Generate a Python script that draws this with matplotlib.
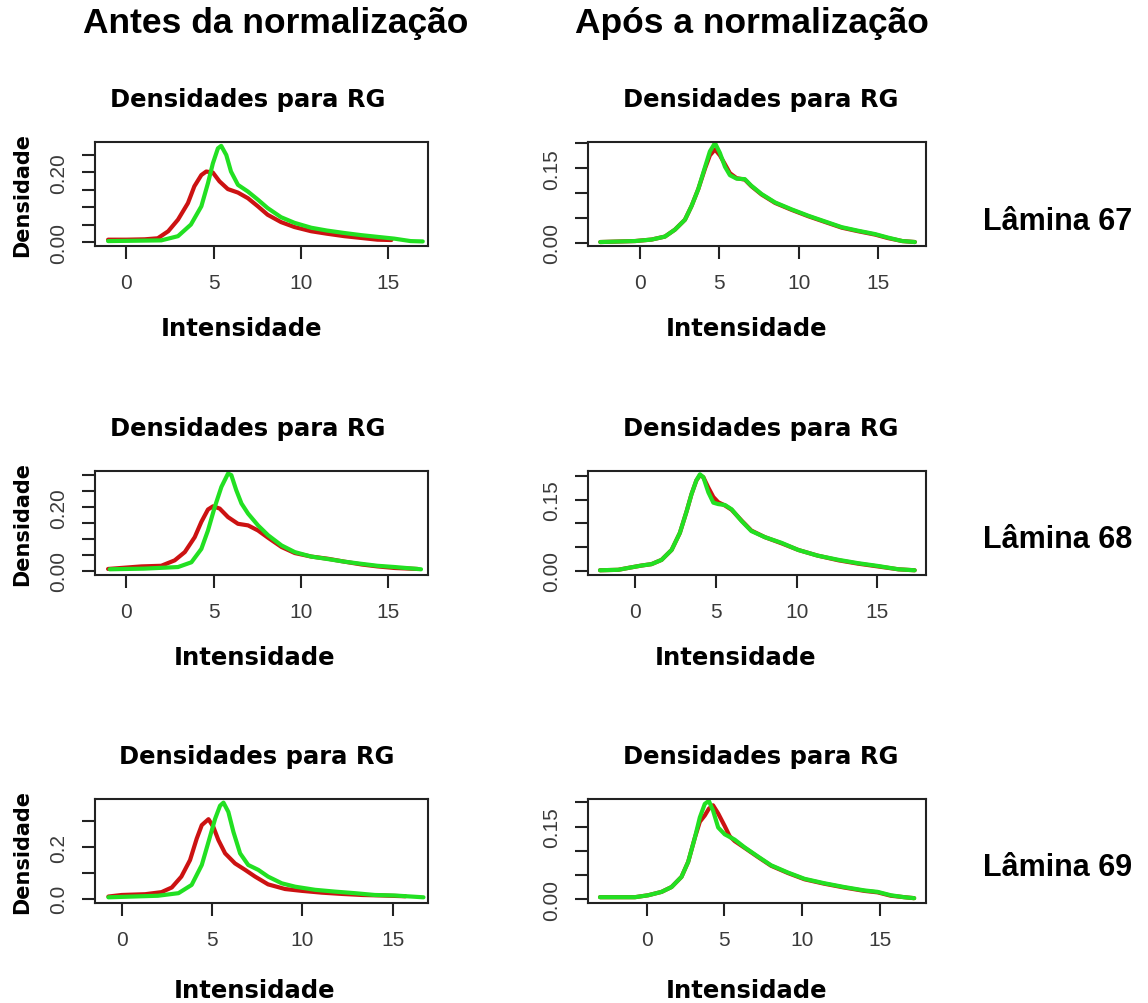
import matplotlib
matplotlib.use("Agg")
import matplotlib.pyplot as plt

plt.rcParams['font.family'] = ['Liberation Sans', 'DejaVu Sans']

# ---------------- data ----------------
col_titles = ["Antes da normalização", "Após a normalização"]
row_labels = ["Lâmina 67", "Lâmina 68", "Lâmina 69"]
panel_title = "Densidades para RG"
x_label = "Intensidade"
y_label = "Densidade"
x_ticks = [0, 5, 10, 15]

# Lâmina 67 - before
l67_before_red_x = [-1.05, 0.0, 1.05, 1.8, 2.4, 2.96, 3.53, 3.9, 4.3, 4.58, 4.96, 5.34, 5.82, 6.4, 6.97, 7.54, 8.1, 8.87, 9.64, 10.6, 11.5, 12.5, 13.45, 14.4, 15.2]
l67_before_red_y = [0.008, 0.008, 0.009, 0.012, 0.032, 0.065, 0.112, 0.160, 0.192, 0.202, 0.199, 0.174, 0.152, 0.142, 0.126, 0.103, 0.079, 0.058, 0.044, 0.032, 0.025, 0.018, 0.013, 0.008, 0.007]
l67_before_green_x = [-1.05, 0.5, 2.0, 2.96, 3.7, 4.3, 4.68, 4.96, 5.25, 5.44, 5.73, 6.0, 6.4, 6.97, 7.54, 8.1, 8.87, 9.64, 10.6, 11.5, 12.5, 13.45, 14.4, 15.36, 16.3, 17.0]
l67_before_green_y = [0.004, 0.005, 0.006, 0.018, 0.051, 0.103, 0.169, 0.225, 0.268, 0.275, 0.249, 0.202, 0.164, 0.145, 0.122, 0.098, 0.072, 0.056, 0.042, 0.034, 0.027, 0.021, 0.016, 0.011, 0.004, 0.003]

# Lâmina 67 - after
l67_after_red_x = [-2.5, -0.3, 0.73, 1.57, 2.2, 2.83, 3.25, 3.67, 4.1, 4.4, 4.72, 5.03, 5.35, 5.66, 6.08, 6.6, 7.0, 7.65, 8.5, 9.54, 10.6, 11.6, 12.7, 13.7, 14.8, 15.6, 16.5, 17.3]
l67_after_red_y = [0.001, 0.003, 0.006, 0.012, 0.026, 0.046, 0.074, 0.108, 0.150, 0.176, 0.188, 0.176, 0.158, 0.140, 0.130, 0.127, 0.114, 0.097, 0.080, 0.066, 0.053, 0.042, 0.030, 0.023, 0.016, 0.009, 0.003, 0.001]
l67_after_green_x = [-2.5, -0.3, 0.73, 1.57, 2.2, 2.83, 3.25, 3.67, 4.1, 4.4, 4.72, 5.03, 5.35, 5.66, 6.08, 6.6, 7.0, 7.65, 8.5, 9.54, 10.6, 11.6, 12.7, 13.7, 14.8, 15.6, 16.5, 17.3]
l67_after_green_y = [0.001, 0.003, 0.006, 0.012, 0.026, 0.046, 0.074, 0.108, 0.153, 0.184, 0.201, 0.181, 0.153, 0.136, 0.129, 0.128, 0.115, 0.098, 0.081, 0.067, 0.054, 0.043, 0.031, 0.024, 0.017, 0.010, 0.003, 0.001]

# Lâmina 68 - before
l68_before_red_x = [-1.05, 0.86, 2.0, 2.77, 3.35, 3.92, 4.3, 4.68, 4.97, 5.35, 5.83, 6.4, 6.98, 7.55, 8.13, 8.9, 9.66, 10.6, 11.57, 12.5, 13.5, 14.4, 15.4, 16.7]
l68_before_red_y = [0.006, 0.014, 0.016, 0.033, 0.059, 0.106, 0.154, 0.193, 0.203, 0.196, 0.169, 0.148, 0.143, 0.127, 0.104, 0.075, 0.056, 0.045, 0.038, 0.029, 0.020, 0.014, 0.009, 0.006]
l68_before_green_x = [-0.96, 1.0, 2.96, 3.73, 4.3, 4.68, 5.07, 5.45, 5.83, 6.02, 6.3, 6.6, 6.98, 7.55, 8.13, 8.9, 9.66, 10.6, 11.57, 12.5, 13.5, 14.4, 15.4, 16.9]
l68_before_green_y = [0.005, 0.007, 0.012, 0.027, 0.069, 0.127, 0.201, 0.264, 0.306, 0.301, 0.254, 0.212, 0.180, 0.143, 0.112, 0.080, 0.059, 0.045, 0.037, 0.029, 0.022, 0.016, 0.012, 0.005]

# Lâmina 68 - after
l68_after_red_x = [-2.16, -1.03, -0.41, 0.41, 1.03, 1.65, 2.27, 2.78, 3.2, 3.5, 3.8, 4.02, 4.23, 4.54, 4.85, 5.15, 5.57, 5.98, 6.6, 7.2, 8.04, 9.07, 10.1, 11.3, 12.6, 13.8, 15.05, 16.3, 17.3]
l68_after_red_y = [0.001, 0.002, 0.006, 0.011, 0.014, 0.023, 0.044, 0.080, 0.126, 0.162, 0.191, 0.202, 0.198, 0.176, 0.156, 0.145, 0.138, 0.129, 0.106, 0.085, 0.071, 0.058, 0.044, 0.032, 0.022, 0.015, 0.009, 0.003, 0.001]
l68_after_green_x = [-2.16, -1.03, -0.41, 0.41, 1.03, 1.65, 2.27, 2.78, 3.2, 3.5, 3.8, 4.02, 4.23, 4.54, 4.85, 5.15, 5.57, 5.98, 6.6, 7.2, 8.04, 9.07, 10.1, 11.3, 12.6, 13.8, 15.05, 16.3, 17.3]
l68_after_green_y = [0.001, 0.002, 0.006, 0.011, 0.014, 0.023, 0.044, 0.080, 0.126, 0.162, 0.191, 0.204, 0.198, 0.166, 0.144, 0.141, 0.139, 0.130, 0.105, 0.084, 0.071, 0.059, 0.044, 0.032, 0.023, 0.016, 0.010, 0.003, 0.001]

# Lâmina 69 - before
l69_before_red_x = [-0.74, 0.0, 1.3, 2.2, 2.77, 3.3, 3.78, 4.15, 4.43, 4.8, 5.07, 5.35, 5.72, 6.27, 6.83, 7.38, 8.1, 9.04, 9.96, 11.07, 12.2, 13.3, 14.4, 15.7]
l69_before_red_y = [0.009, 0.015, 0.018, 0.026, 0.044, 0.086, 0.150, 0.233, 0.285, 0.308, 0.278, 0.227, 0.176, 0.137, 0.112, 0.086, 0.056, 0.038, 0.031, 0.024, 0.019, 0.015, 0.013, 0.010]
l69_before_green_x = [-0.74, 2.0, 3.14, 3.87, 4.43, 4.8, 5.17, 5.44, 5.63, 5.9, 6.18, 6.55, 7.0, 7.56, 8.1, 8.86, 9.6, 10.7, 11.8, 12.9, 14.0, 15.1, 16.7]
l69_before_green_y = [0.006, 0.012, 0.022, 0.054, 0.131, 0.220, 0.310, 0.360, 0.372, 0.336, 0.259, 0.176, 0.131, 0.112, 0.086, 0.060, 0.047, 0.035, 0.028, 0.022, 0.015, 0.013, 0.006]

# Lâmina 69 - after
l69_after_red_x = [-3.0, -0.75, 0.1, 0.96, 1.6, 2.24, 2.67, 3.1, 3.42, 3.74, 4.0, 4.27, 4.6, 5.02, 5.34, 5.66, 6.3, 7.16, 8.0, 9.08, 10.15, 11.4, 12.7, 14.0, 14.85, 15.7, 16.56, 17.2]
l69_after_red_y = [0.004, 0.004, 0.008, 0.015, 0.025, 0.046, 0.077, 0.127, 0.160, 0.173, 0.187, 0.194, 0.177, 0.151, 0.130, 0.120, 0.106, 0.087, 0.069, 0.054, 0.041, 0.032, 0.024, 0.017, 0.014, 0.007, 0.004, 0.002]
l69_after_green_x = [-3.0, -0.75, 0.1, 0.96, 1.6, 2.24, 2.67, 3.1, 3.42, 3.74, 4.0, 4.27, 4.6, 5.02, 5.66, 6.3, 7.16, 8.0, 9.08, 10.15, 11.4, 12.7, 14.0, 14.85, 15.7, 16.56, 17.2]
l69_after_green_y = [0.004, 0.004, 0.008, 0.015, 0.025, 0.046, 0.077, 0.127, 0.169, 0.197, 0.203, 0.183, 0.148, 0.134, 0.123, 0.107, 0.088, 0.070, 0.055, 0.042, 0.033, 0.025, 0.018, 0.015, 0.008, 0.004, 0.002]

# y ticks / labels per panel (R prints only non-overlapping labels)
y_ticks_before = [[0, 0.05, 0.10, 0.15, 0.20, 0.25],
                  [0, 0.05, 0.10, 0.15, 0.20, 0.25, 0.30],
                  [0, 0.1, 0.2, 0.3]]
y_ticklabels_before = [["0.00", "", "", "", "0.20", ""],
                       ["0.00", "", "", "", "0.20", "", ""],
                       ["0.0", "", "0.2", ""]]
y_ticks_after = [[0, 0.05, 0.10, 0.15, 0.20]] * 3
y_ticklabels_after = [["0.00", "", "", "0.15", ""]] * 3

# ---------------- style / layout ----------------
RED = "#cc1212"
GREEN = "#22e022"
W, H = 1148, 1004
R_FONT = ['DejaVu Sans']

fig = plt.figure(figsize=(W / 100, H / 100), dpi=100)

def px_axes(x0, y0, x1, y1):
    return fig.add_axes([x0 / W, 1 - y1 / H, (x1 - x0) / W, (y1 - y0) / H])

rows_px = [(143, 247), (472, 576), (800, 904)]
cols_px = [(95, 428), (588, 926)]

xlims = [[(-1.8, 17.3), (-3.27, 18.0)],
         [(-1.8, 17.3), (-2.9, 18.0)],
         [(-1.48, 16.95), (-3.77, 17.96)]]
ylims = [[(-0.010, 0.286), (-0.007, 0.203)],
         [(-0.013, 0.314), (-0.009, 0.211)],
         [(-0.016, 0.386), (-0.008, 0.207)]]

# horizontal placement of panel texts (axes fraction), as in the reference
title_x = [[0.46, 0.512], [0.46, 0.512], [0.486, 0.512]]
xlabel_x = [[0.44, 0.47], [0.48, 0.436], [0.48, 0.47]]
xlabel_pad = [17, 17, 21]

series = [
    [((l67_before_red_x, l67_before_red_y), (l67_before_green_x, l67_before_green_y)),
     ((l67_after_red_x, l67_after_red_y), (l67_after_green_x, l67_after_green_y))],
    [((l68_before_red_x, l68_before_red_y), (l68_before_green_x, l68_before_green_y)),
     ((l68_after_red_x, l68_after_red_y), (l68_after_green_x, l68_after_green_y))],
    [((l69_before_red_x, l69_before_red_y), (l69_before_green_x, l69_before_green_y)),
     ((l69_after_red_x, l69_after_red_y), (l69_after_green_x, l69_after_green_y))],
]

TICK_COLOR = "#3a3a3a"

for r, (ry0, ry1) in enumerate(rows_px):
    for c, (cx0, cx1) in enumerate(cols_px):
        ax = px_axes(cx0, ry0, cx1, ry1)
        (rx, ry), (gx, gy) = series[r][c]
        ax.plot(rx, ry, color=RED, lw=3.0, solid_joinstyle='round', solid_capstyle='round')
        ax.plot(gx, gy, color=GREEN, lw=3.0, solid_joinstyle='round', solid_capstyle='round')
        ax.set_xlim(*xlims[r][c])
        ax.set_ylim(*ylims[r][c])
        ax.set_xticks(x_ticks)
        ax.set_xticklabels([str(t) for t in x_ticks])
        if c == 0:
            ax.set_yticks(y_ticks_before[r])
            ax.set_yticklabels(y_ticklabels_before[r])
        else:
            ax.set_yticks(y_ticks_after[r])
            ax.set_yticklabels(y_ticklabels_after[r])
        for s in ax.spines.values():
            s.set_linewidth(1.5)
            s.set_color("#222222")
        ax.tick_params(axis='both', direction='out', length=9.5, width=1.5,
                       color="#222222", labelsize=15, labelcolor=TICK_COLOR)
        ax.tick_params(axis='x', pad=10)
        ax.tick_params(axis='y', pad=10)
        for lab in ax.get_yticklabels():
            lab.set_rotation(90)
            lab.set_va('center')
        ax.set_title(panel_title, fontsize=17.5, fontweight='bold', pad=26,
                     family=R_FONT, x=title_x[r][c])
        ax.set_xlabel(x_label, fontsize=17.5, fontweight='bold',
                      labelpad=xlabel_pad[r], family=R_FONT, x=xlabel_x[r][c])
        if c == 0:
            ax.set_ylabel(y_label, fontsize=15, fontweight='bold', labelpad=12,
                          family=R_FONT)

# column headers
fig.text(276 / W, 1 - 24 / H, col_titles[0], ha='center', va='center',
         fontsize=25.5, fontweight='bold')
fig.text(752 / W, 1 - 24 / H, col_titles[1], ha='center', va='center',
         fontsize=25.5, fontweight='bold')

# row labels
for lab, yc in zip(row_labels, [222, 540, 868]):
    fig.text(1058 / W, 1 - yc / H, lab, ha='center', va='center',
             fontsize=22, fontweight='bold')

fig.savefig("out.png", dpi=100)
